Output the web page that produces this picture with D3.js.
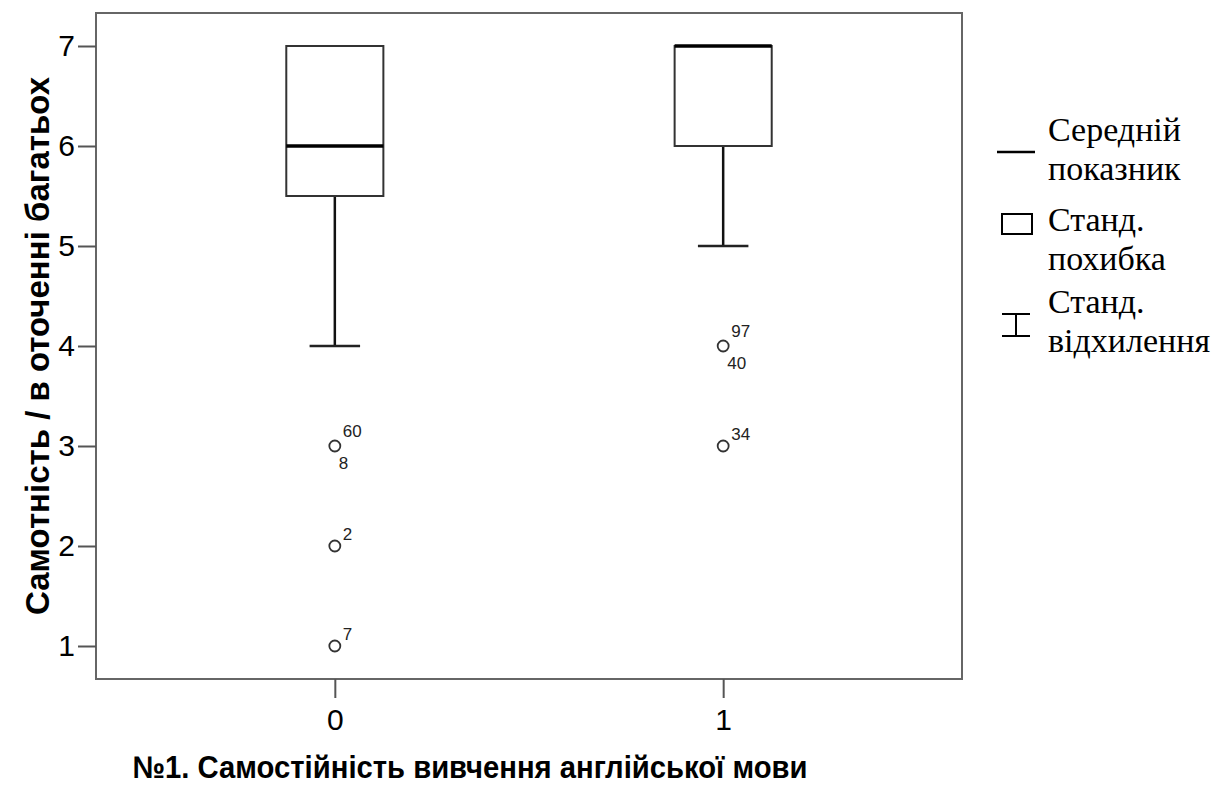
<!DOCTYPE html>
<html>
<head>
<meta charset="utf-8">
<script src="https://cdn.jsdelivr.net/npm/d3@7"></script>
<style>
  body { margin: 0; background: #fff; }
  svg { display: block; }
</style>
</head>
<body>
<svg id="chart"></svg>
<script>
const width = 1225;
const height = 787;

// box plot values per category
const categories = ["0", "1"];
const q1 = [5.5, 6];
const median = [6, 7];
const q3 = [7, 7];
const whiskerLow = [4, 5];
const whiskerHigh = [7, 7];

// outliers and their case labels
const outlierCat = ["0", "0", "0", "1", "1"];
const outlierVal = [3, 2, 1, 4, 3];
const outlierAbove = ["60", "2", "7", "97", "34"];
const outlierBelow = ["8", "", "", "40", ""];

const yTicks = [1, 2, 3, 4, 5, 6, 7];

const legendItems = [
  ["Середній", "показник"],
  ["Станд.", "похибка"],
  ["Станд.", "відхилення"]
];

const frame = {left: 96, top: 13, right: 962, bottom: 679};

let svg = d3.select("#chart")
            .attr("width", width)
            .attr("height", height);

let x = d3.scalePoint()
          .domain(categories)
          .range([frame.left, frame.right])
          .padding(0.615);

let y = d3.scaleLinear()
          .domain([0.67, 7.33])
          .range([frame.bottom, frame.top]);

const boxW = x.step() * 0.25;
const capW = x.step() * 0.13;

// frame round the plot
svg.append("rect")
   .attr("x", frame.left)
   .attr("y", frame.top)
   .attr("width", frame.right - frame.left)
   .attr("height", frame.bottom - frame.top)
   .attr("fill", "none")
   .attr("stroke", "#666")
   .attr("stroke-width", 2);

// y axis
let yAxis = svg.append("g")
   .attr("transform", "translate(" + frame.left + ",0)")
   .call(d3.axisLeft(y).tickValues(yTicks).tickSize(18).tickPadding(3).tickFormat(d3.format("d")));
yAxis.select(".domain").remove();

// x axis
let xAxis = svg.append("g")
   .attr("transform", "translate(0," + frame.bottom + ")")
   .call(d3.axisBottom(x).tickSize(19).tickPadding(11));
xAxis.select(".domain").remove();

svg.selectAll(".tick line").attr("stroke", "#555").attr("stroke-width", 2);
svg.selectAll(".tick text")
   .attr("fill", "#000")
   .style("font-family", "Liberation Sans, Arial, sans-serif")
   .style("font-size", "30px");

// boxes
let boxes = svg.append("g")
   .selectAll("g")
   .data(categories)
   .enter()
   .append("g");

// lower whisker
boxes.append("line")
   .attr("x1", d => x(d))
   .attr("x2", d => x(d))
   .attr("y1", (d, i) => y(q1[i]))
   .attr("y2", (d, i) => y(whiskerLow[i]))
   .attr("stroke", "#111")
   .attr("stroke-width", 2.5);

boxes.append("line")
   .attr("x1", d => x(d) - capW / 2)
   .attr("x2", d => x(d) + capW / 2)
   .attr("y1", (d, i) => y(whiskerLow[i]))
   .attr("y2", (d, i) => y(whiskerLow[i]))
   .attr("stroke", "#222")
   .attr("stroke-width", 2.5);

// upper whisker (zero length here)
boxes.append("line")
   .attr("x1", d => x(d))
   .attr("x2", d => x(d))
   .attr("y1", (d, i) => y(q3[i]))
   .attr("y2", (d, i) => y(whiskerHigh[i]))
   .attr("stroke", "#111")
   .attr("stroke-width", 2.5);

boxes.append("rect")
   .attr("x", d => x(d) - boxW / 2)
   .attr("width", boxW)
   .attr("y", (d, i) => y(q3[i]))
   .attr("height", (d, i) => y(q1[i]) - y(q3[i]))
   .attr("fill", "#fff")
   .attr("stroke", "#333")
   .attr("stroke-width", 2);

boxes.append("line")
   .attr("x1", d => x(d) - boxW / 2)
   .attr("x2", d => x(d) + boxW / 2)
   .attr("y1", (d, i) => y(median[i]))
   .attr("y2", (d, i) => y(median[i]))
   .attr("stroke", "#000")
   .attr("stroke-width", 3.5);

// outliers
let outl = svg.append("g")
   .selectAll("g")
   .data(outlierVal)
   .enter()
   .append("g")
   .attr("transform", (d, i) => "translate(" + x(outlierCat[i]) + "," + y(d) + ")");

outl.append("circle")
   .attr("r", 5.5)
   .attr("fill", "none")
   .attr("stroke", "#333")
   .attr("stroke-width", 1.8);

outl.append("text")
   .attr("x", 8)
   .attr("y", (d, i) => outlierBelow[i] ? -9 : -6)
   .text((d, i) => outlierAbove[i])
   .style("font-family", "Liberation Sans, Arial, sans-serif")
   .style("font-size", "17px")
   .attr("fill", "#222");

outl.append("text")
   .attr("x", 4)
   .attr("y", 23)
   .text((d, i) => outlierBelow[i])
   .style("font-family", "Liberation Sans, Arial, sans-serif")
   .style("font-size", "17px")
   .attr("fill", "#222");

// axis titles
svg.append("text")
   .attr("transform", "translate(" + 49 + "," + 346 + ") rotate(-90)")
   .attr("text-anchor", "middle")
   .style("font-family", "Liberation Sans, Arial, sans-serif")
   .style("font-weight", "bold")
   .style("font-size", "33px")
   .text("Самотність / в оточенні багатьох");

svg.append("text")
   .attr("x", 470)
   .attr("y", 778)
   .attr("text-anchor", "middle")
   .attr("textLength", 675)
   .attr("lengthAdjust", "spacingAndGlyphs")
   .style("font-family", "Liberation Sans, Arial, sans-serif")
   .style("font-weight", "bold")
   .style("font-size", "31px")
   .text("№1. Самостійність вивчення англійської мови");

// legend
const legendBase = [[141, 180], [231, 270], [313, 352]];
let legend = svg.append("g");

legendItems.forEach(function(lines, i) {
  lines.forEach(function(t, j) {
    legend.append("text")
       .attr("x", 1048)
       .attr("y", legendBase[i][j])
       .style("font-family", "Liberation Serif, Times New Roman, serif")
       .style("font-size", "34px")
       .text(t);
  });
});

legend.append("line")
   .attr("x1", 997).attr("x2", 1035)
   .attr("y1", 152).attr("y2", 152)
   .attr("stroke", "#000").attr("stroke-width", 2.5);

legend.append("rect")
   .attr("x", 1002).attr("y", 214)
   .attr("width", 30).attr("height", 20)
   .attr("fill", "none")
   .attr("stroke", "#000").attr("stroke-width", 2);

legend.append("path")
   .attr("d", "M1002,314H1030M1016,314V336M1002,336H1030")
   .attr("fill", "none")
   .attr("stroke", "#000").attr("stroke-width", 2);
</script>
</body>
</html>
